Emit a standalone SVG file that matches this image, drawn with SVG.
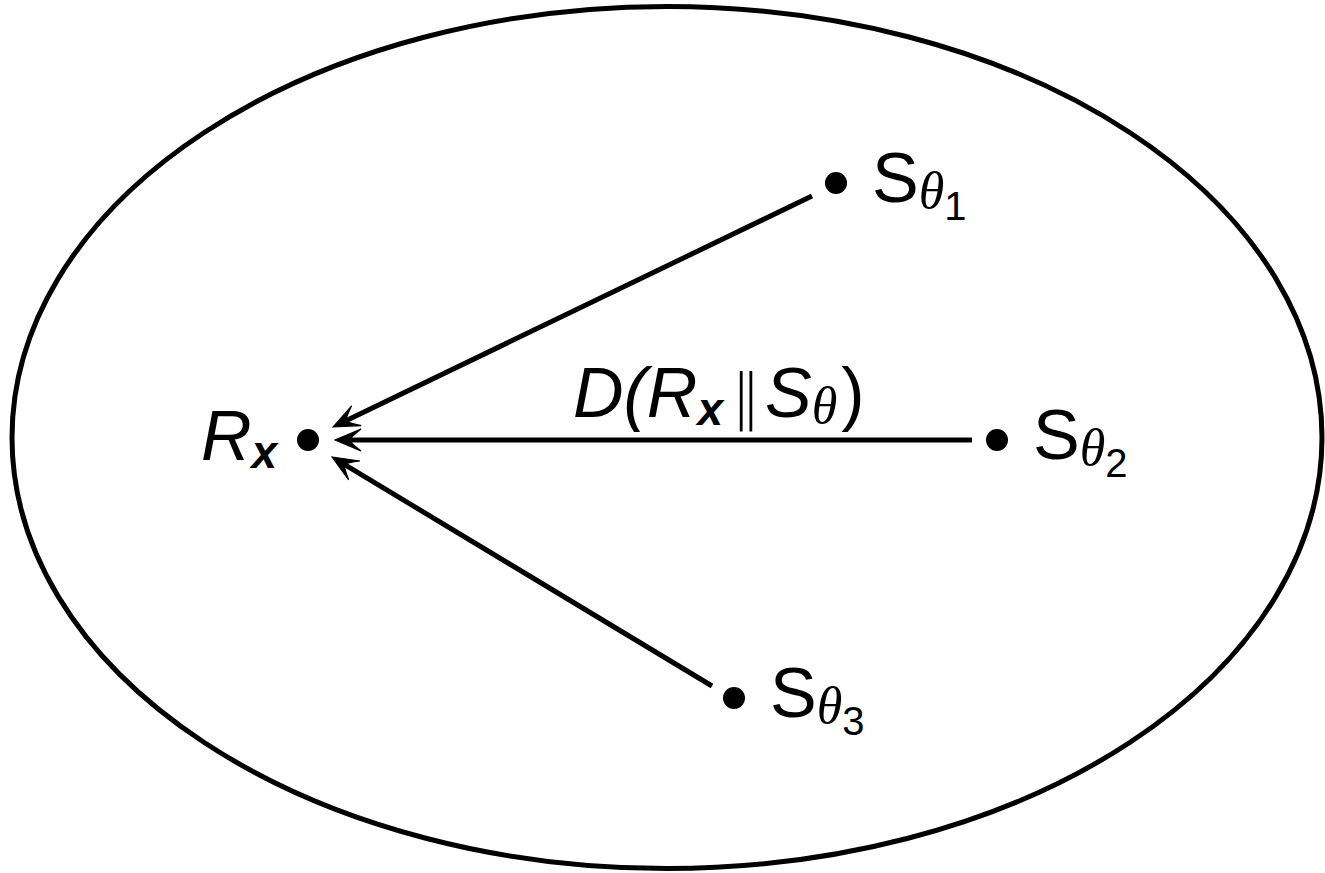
<svg xmlns="http://www.w3.org/2000/svg" width="1325" height="873" viewBox="0 0 1325 873">
<style>
.t{font-family:"Liberation Sans",Arial,sans-serif;font-size:70px;fill:#000}
.it{font-style:italic}
.bx{font-style:italic;font-weight:bold;font-size:46px}
.th{font-family:"Liberation Serif","Times New Roman",serif;font-style:italic;font-size:52px}
.sub{font-size:40px}
.ln{stroke:#000;stroke-width:5;fill:none}
</style>
<defs>
<marker id="ah" markerUnits="userSpaceOnUse" markerWidth="40" markerHeight="30" refX="0" refY="0" viewBox="-20 -15 40 30" orient="auto" overflow="visible">
<path d="M8,0 L-18,-11 Q-8,-3 -6,0 Q-8,3 -18,11 Z" fill="#000" stroke="#000" stroke-width="1.2" stroke-linejoin="miter"/>
</marker>
</defs>
<rect width="1325" height="873" fill="#fff"/>
<ellipse cx="667" cy="437.5" rx="655" ry="431" class="ln"/>
<g id="connectors">
<line x1="812" y1="196" x2="340.2" y2="423.5" class="ln" marker-end="url(#ah)"/>
<line x1="972" y1="440" x2="343" y2="440" class="ln" marker-end="url(#ah)"/>
<line x1="712" y1="686" x2="338.9" y2="461.1" class="ln" marker-end="url(#ah)"/>
<text class="t it" x="573" y="417">D(R<tspan class="bx" dy="8">x</tspan><tspan dy="-8" font-style="normal" dx="8" font-family="'DejaVu Sans',sans-serif" font-size="60" font-weight="100">‖</tspan><tspan dx="4">S</tspan><tspan class="th" dy="6">θ</tspan><tspan dy="-6" font-style="normal" dx="4">)</tspan></text>
</g>
<g id="Rx">
<circle cx="308" cy="440" r="11" fill="#000"/>
<text class="t it" x="201" y="460">R<tspan class="bx" dy="8">x</tspan></text>
</g>
<g id="S1">
<circle cx="836" cy="183" r="11" fill="#000"/>
<text class="t" x="872" y="202">S<tspan class="th" dy="6">θ</tspan><tspan class="sub" dy="12">1</tspan></text>
</g>
<g id="S2">
<circle cx="997" cy="440" r="11" fill="#000"/>
<text class="t" x="1033" y="459">S<tspan class="th" dy="6">θ</tspan><tspan class="sub" dy="12">2</tspan></text>
</g>
<g id="S3">
<circle cx="734" cy="698" r="11" fill="#000"/>
<text class="t" x="770" y="717">S<tspan class="th" dy="6">θ</tspan><tspan class="sub" dy="12">3</tspan></text>
</g>
</svg>
